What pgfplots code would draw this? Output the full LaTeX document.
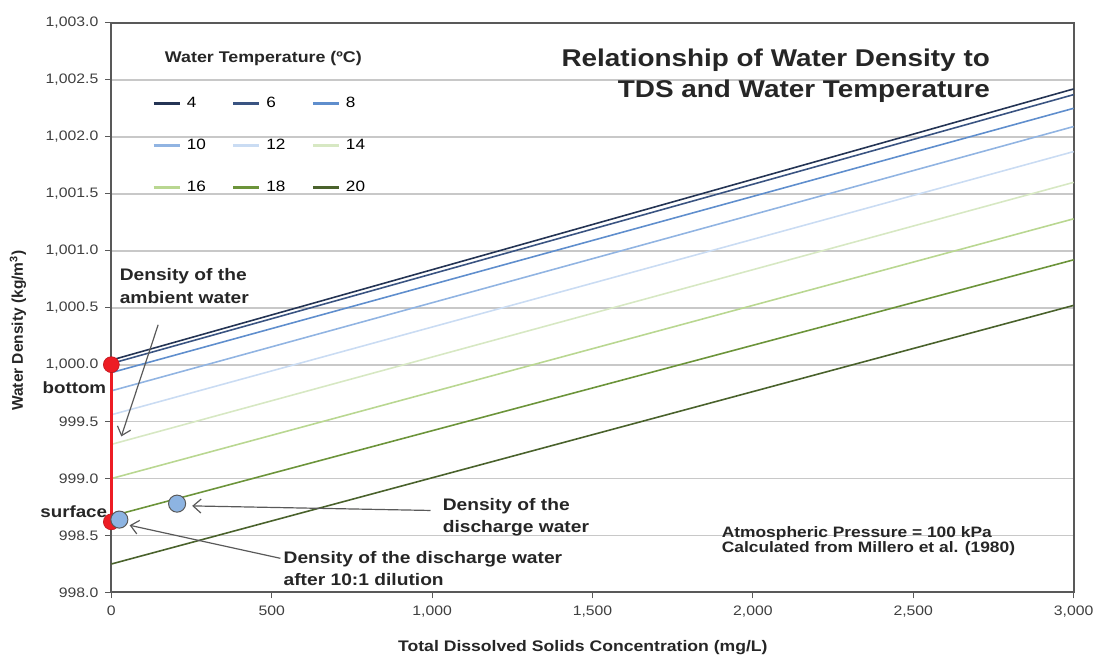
\documentclass[border=0pt]{standalone}
\usepackage{pgfplots}
\pgfplotsset{compat=1.18}
\usepackage{fontspec}
\setmainfont[FakeStretch=1.15]{Liberation Sans}
\newfontfamily\plainsans{Liberation Sans}
\usetikzlibrary{arrows.meta}
\definecolor{c4}{RGB}{36,52,84}
\definecolor{c6}{RGB}{58,84,130}
\definecolor{c8}{RGB}{95,142,205}
\definecolor{c10}{RGB}{145,180,226}
\definecolor{c12}{RGB}{202,220,243}
\definecolor{c14}{RGB}{215,232,195}
\definecolor{c16}{RGB}{185,215,145}
\definecolor{c18}{RGB}{108,148,58}
\definecolor{c20}{RGB}{74,98,44}
\definecolor{axgray}{RGB}{89,89,89}
\definecolor{gridgray}{RGB}{200,200,200}
\definecolor{ptblue}{RGB}{141,180,226}
\definecolor{ptred}{RGB}{237,28,36}
\begin{document}
\begin{tikzpicture}
\begin{axis}[
  scale only axis, width=484pt, height=286.5pt,
  xmin=0, xmax=3000, ymin=998, ymax=1003,
  xtick={0,500,...,3000}, ytick={998,998.5,...,1003},
  ymajorgrids, grid style={gridgray, line width=0.9pt},
  axis line style={axgray, line width=1pt},
  tick style={axgray, line width=0.6pt},
  tick align=outside, major tick length=3pt,
  xtick pos=bottom, ytick pos=left,
  /pgf/number format/assume math mode=true,
  xticklabel style={/pgf/number format/.cd, 1000 sep={,}, /tikz/.cd, font=\fontsize{6.9}{8}\selectfont, text=black!75},
  yticklabel style={/pgf/number format/.cd, fixed, fixed zerofill, precision=1, 1000 sep={,}, /tikz/.cd, font=\fontsize{6.9}{8}\selectfont, text=black!75},
  clip=false,
  legend columns=3,
  legend cell align=left,
  legend style={draw=none, fill=none, at={(rel axis cs:0.036,0.885)}, anchor=north west,
    font=\fontsize{7.5}{9}\selectfont, row sep=10.5pt, column sep=1pt,
    /tikz/every even column/.append style={column sep=11pt}},
  legend image code/.code={\draw[#1, line width=1.4pt] (0pt,0pt) -- (13pt,0pt);},
]
\addplot[c4, line width=0.8pt] coordinates {(0,1000.04) (3000,1002.42)};
\addlegendentry{4}
\addplot[c6, line width=0.8pt] coordinates {(0,1000.01) (3000,1002.37)};
\addlegendentry{6}
\addplot[c8, line width=0.8pt] coordinates {(0,999.93) (3000,1002.25)};
\addlegendentry{8}
\addplot[c10, line width=0.8pt] coordinates {(0,999.77) (3000,1002.09)};
\addlegendentry{10}
\addplot[c12, line width=0.8pt] coordinates {(0,999.56) (3000,1001.87)};
\addlegendentry{12}
\addplot[c14, line width=0.8pt] coordinates {(0,999.30) (3000,1001.60)};
\addlegendentry{14}
\addplot[c16, line width=0.8pt] coordinates {(0,999.00) (3000,1001.28)};
\addlegendentry{16}
\addplot[c18, line width=0.8pt] coordinates {(0,998.67) (3000,1000.92)};
\addlegendentry{18}
\addplot[c20, line width=0.8pt] coordinates {(0,998.25) (3000,1000.52)};
\addlegendentry{20}
% red vertical line and points
\addplot[ptred, line width=1.6pt, forget plot] coordinates {(0,1000.0) (0,998.62)};
\addplot[only marks, mark=*, mark size=4pt, mark options={fill=ptred, draw=ptred!80!black, line width=0.3pt}, forget plot]
  coordinates {(0,1000.0) (0,998.62)};
\addplot[only marks, mark=*, mark size=4.3pt, mark options={fill=ptblue, draw=axgray, line width=0.5pt}, forget plot]
  coordinates {(25,998.64) (205,998.78)};
% arrows
\draw[-{Straight Barb[length=4pt,width=7pt]}, axgray, line width=0.6pt] (axis cs:146,1000.35) -- (axis cs:31,999.37);
\draw[-{Straight Barb[length=4pt,width=7pt]}, axgray, line width=0.6pt] (axis cs:995,998.72) -- (axis cs:252,998.76);
\draw[-{Straight Barb[length=4pt,width=7pt]}, axgray, line width=0.6pt] (axis cs:527,998.30) -- (axis cs:57,998.59);
% annotations
\node[anchor=north west, align=left, font=\bfseries\fontsize{8.4}{11.3}\selectfont, text=black!85, inner sep=0pt] at (axis cs:25,1000.845) {Density of the\\ambient water};
\node[anchor=north west, align=left, font=\bfseries\fontsize{8.4}{11}\selectfont, text=black!85, inner sep=0pt] at (axis cs:1032,998.83) {Density of the\\discharge water};
\node[anchor=north west, align=left, font=\bfseries\fontsize{8.4}{11}\selectfont, text=black!85, inner sep=0pt] at (axis cs:536,998.36) {Density of the discharge water\\after 10:1 dilution};
\node[anchor=east, font=\bfseries\fontsize{8.2}{10}\selectfont, text=black!85, inner sep=0pt] at (axis cs:-15,999.80) {bottom};
\node[anchor=east, font=\bfseries\fontsize{8.2}{10}\selectfont, text=black!85, inner sep=0pt] at (axis cs:-12,998.71) {surface};
\node[anchor=north west, align=left, font=\bfseries\fontsize{7.6}{7.6}\selectfont, text=black!85, inner sep=0pt] at (axis cs:1902,998.58) {Atmospheric Pressure = 100 kPa\\Calculated from Millero et al. (1980)};
\node[anchor=north east, align=right, font=\bfseries\fontsize{12.2}{15.5}\selectfont, text=black!85, inner sep=0pt] at (axis cs:2740,1002.775) {Relationship of Water Density to\\TDS and Water Temperature};
\node[anchor=center, font=\bfseries\fontsize{7.8}{9}\selectfont, text=black!85] at (rel axis cs:0.158,0.937) {Water Temperature (ºC)};
% axis labels
\node[font=\bfseries\fontsize{7.7}{9}\selectfont, text=black!85] at (rel axis cs:0.49,-0.096) {Total Dissolved Solids Concentration (mg/L)};
\node[font=\plainsans\bfseries\fontsize{7.8}{9}\selectfont, text=black!85, rotate=90] at (rel axis cs:-0.097,0.46) {Water Density (kg/m\textsuperscript{3})};
\end{axis}
\path (-56pt,-29pt) rectangle (494pt,298pt);
\end{tikzpicture}
\end{document}
